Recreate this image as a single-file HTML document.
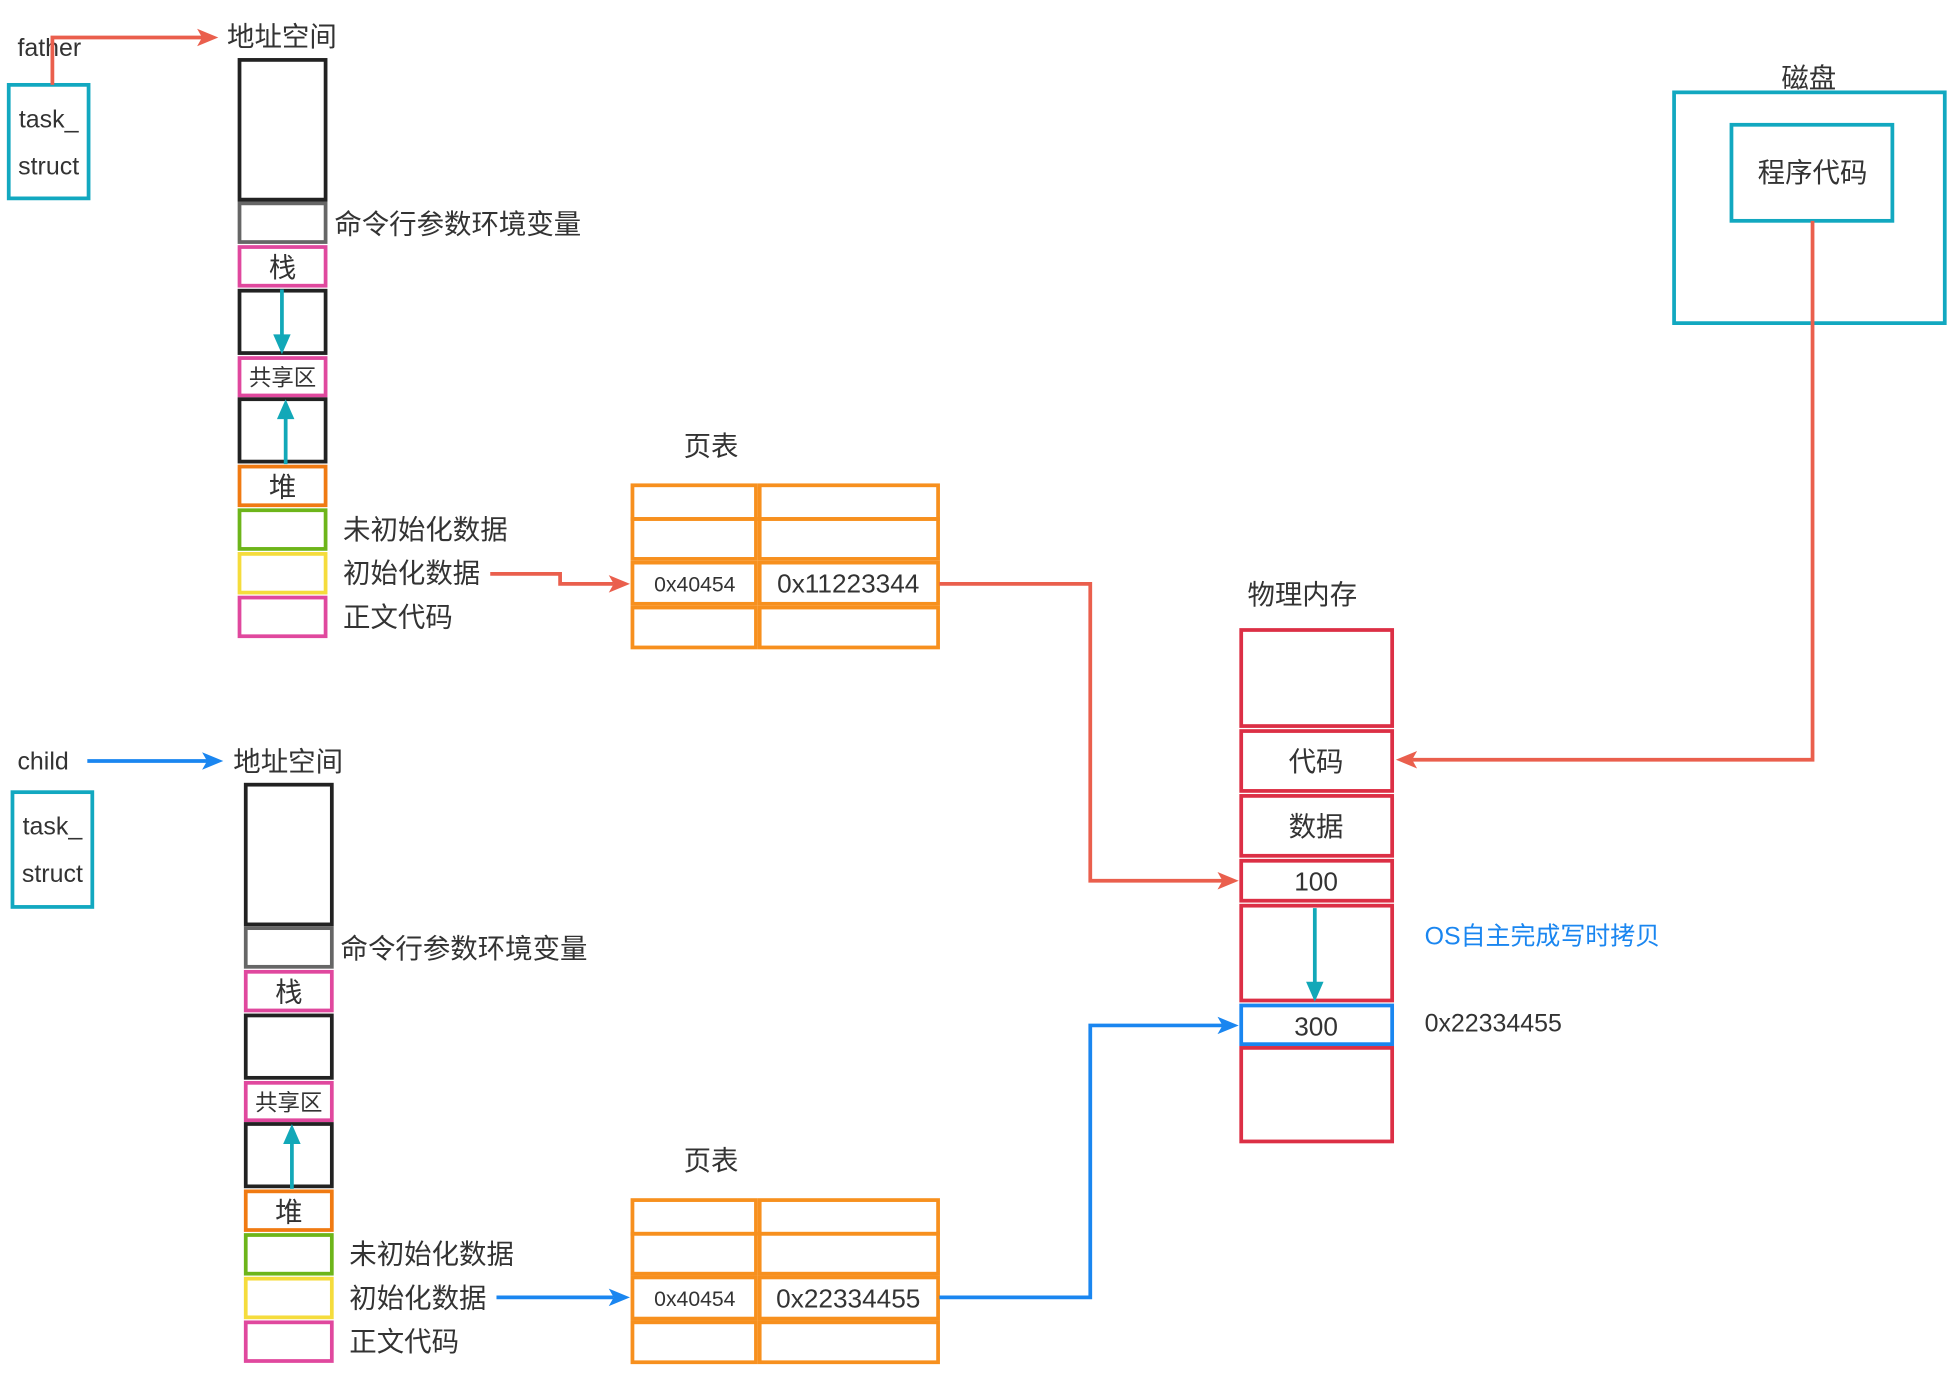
<!DOCTYPE html>
<html><head><meta charset="utf-8"><style>
html,body{margin:0;padding:0;background:#fff;}
svg{display:block;}
text{font-family:"Liberation Sans","Noto Sans CJK SC",sans-serif;fill:#333;}
</style></head><body>
<svg width="1956" height="1379" viewBox="0 0 1568 1105.4" xmlns="http://www.w3.org/2000/svg">
<defs>
<marker id="ar" markerWidth="8" markerHeight="8" refX="7" refY="4" orient="auto" markerUnits="userSpaceOnUse" viewBox="0 0 8 8"><path d="M0,0 L8,4 L0,8 L2,4 Z" fill="#ea5f4d"/></marker>
<marker id="ab" markerWidth="8" markerHeight="8" refX="7" refY="4" orient="auto" markerUnits="userSpaceOnUse" viewBox="0 0 8 8"><path d="M0,0 L8,4 L0,8 L2,4 Z" fill="#1a86f0"/></marker>
<marker id="at" markerWidth="8" markerHeight="8" refX="7" refY="4" orient="auto" markerUnits="userSpaceOnUse" viewBox="0 0 8 8"><path d="M0,0 L8,4 L0,8 L2,4 Z" fill="#12a8b8"/></marker>
</defs>
<style>
.arR{marker-end:url(#ar)}
</style>

<!-- FATHER -->
<text x="14" y="45" font-size="20">father</text>
<rect x="7" y="68" width="64" height="91" fill="none" stroke="#12a8c0" stroke-width="3"/>
<text x="39" y="102" font-size="20" text-anchor="middle">task_</text>
<text x="39" y="140" font-size="20" text-anchor="middle">struct</text>
<path d="M42,68 V30 H168" fill="none" stroke="#ea5f4d" stroke-width="3" marker-end="url(#ar)" style="marker-end:url(#ar)"/>
<path d="M158,23 L175,30 L158,37 L162,30Z" fill="#ea5f4d"/>

<g id="col">
<text x="182" y="37" font-size="22">地址空间</text>
<rect x="192" y="48" width="69" height="112" fill="none" stroke="#222" stroke-width="3"/>
<rect x="192" y="163" width="69" height="31" fill="none" stroke="#666" stroke-width="3"/>
<text x="268" y="187" font-size="22">命令行参数环境变量</text>
<rect x="192" y="198" width="69" height="31" fill="none" stroke="#e0489e" stroke-width="3"/>
<text x="226.5" y="222" font-size="22" text-anchor="middle">栈</text>
<rect x="192" y="233" width="69" height="50" fill="none" stroke="#222" stroke-width="3"/>
<rect x="192" y="287" width="69" height="30" fill="none" stroke="#e0489e" stroke-width="3"/>
<text x="226.5" y="309" font-size="18" text-anchor="middle">共享区</text>
<rect x="192" y="320" width="69" height="50" fill="none" stroke="#222" stroke-width="3"/>
<rect x="192" y="374" width="69" height="31" fill="none" stroke="#f07a12" stroke-width="3"/>
<text x="226.5" y="398" font-size="22" text-anchor="middle">堆</text>
<rect x="192" y="409" width="69" height="31" fill="none" stroke="#6db51a" stroke-width="3"/>
<text x="275" y="432" font-size="22">未初始化数据</text>
<rect x="192" y="444" width="69" height="31" fill="none" stroke="#f5dc3c" stroke-width="3"/>
<text x="275" y="467" font-size="22">初始化数据</text>
<rect x="192" y="479" width="69" height="31" fill="none" stroke="#e0489e" stroke-width="3"/>
<text x="275" y="502" font-size="22">正文代码</text>
<line x1="229" y1="372" x2="229" y2="332" stroke="#12a8b8" stroke-width="3"/>
<path d="M222,336 L229,320 L236,336Z" fill="#12a8b8"/>
</g>
<line x1="226" y1="232" x2="226" y2="270" stroke="#12a8b8" stroke-width="3"/>
<path d="M219,268 L226,284 L233,268Z" fill="#12a8b8"/>

<path d="M393,460 H449 V468 H492" fill="none" stroke="#ea5f4d" stroke-width="3"/>
<path d="M488,461 L505,468 L488,475 L492,468Z" fill="#ea5f4d"/>

<!-- page table top -->
<g id="pt">
<text x="570" y="365" font-size="22" text-anchor="middle">页表</text>
<g fill="none" stroke="#f7901e" stroke-width="3">
<rect x="507" y="389" width="99" height="27"/><rect x="609" y="389" width="143" height="27"/>
<rect x="507" y="416" width="99" height="32"/><rect x="609" y="416" width="143" height="32"/>
<rect x="507" y="451" width="99" height="33"/><rect x="609" y="451" width="143" height="33"/>
<rect x="507" y="487" width="99" height="32"/><rect x="609" y="487" width="143" height="32"/>
</g>
<text x="557" y="474" font-size="17" text-anchor="middle">0x40454</text>
</g>
<text x="680" y="475" font-size="21" text-anchor="middle">0x11223344</text>
<path d="M753,468 H874 V706 H980" fill="none" stroke="#ea5f4d" stroke-width="3"/>
<path d="M976,699 L993,706 L976,713 L980,706Z" fill="#ea5f4d"/>

<!-- CHILD -->
<text x="14" y="617" font-size="20">child</text>
<rect x="10" y="635" width="64" height="92" fill="none" stroke="#12a8c0" stroke-width="3"/>
<text x="42" y="669" font-size="20" text-anchor="middle">task_</text>
<text x="42" y="707" font-size="20" text-anchor="middle">struct</text>
<line x1="70" y1="610" x2="166" y2="610" stroke="#1a86f0" stroke-width="3"/>
<path d="M162,603 L179,610 L162,617 L166,610Z" fill="#1a86f0"/>
<use href="#col" transform="translate(5,581)"/>
<path d="M398,1040 H492" fill="none" stroke="#1a86f0" stroke-width="3"/>
<path d="M488,1033 L505,1040 L488,1047 L492,1040Z" fill="#1a86f0"/>
<use href="#pt" transform="translate(0,573)"/>
<text x="680" y="1048" font-size="21" text-anchor="middle">0x22334455</text>
<path d="M753,1040 H874 V822 H980" fill="none" stroke="#1a86f0" stroke-width="3"/>
<path d="M976,815 L993,822 L976,829 L980,822Z" fill="#1a86f0"/>

<!-- physical memory -->
<text x="1000" y="484" font-size="22">物理内存</text>
<g fill="none" stroke="#dc2f45" stroke-width="3">
<rect x="995" y="505" width="121" height="77"/>
<rect x="995" y="586" width="121" height="48"/>
<rect x="995" y="638" width="121" height="48"/>
<rect x="995" y="690" width="121" height="32"/>
<rect x="995" y="726" width="121" height="76"/>
<rect x="995" y="840" width="121" height="75"/>
</g>
<rect x="995" y="806" width="121" height="31" fill="none" stroke="#1a86f0" stroke-width="3"/>
<text x="1055" y="618" font-size="22" text-anchor="middle">代码</text>
<text x="1055" y="670" font-size="22" text-anchor="middle">数据</text>
<text x="1055" y="714" font-size="21" text-anchor="middle">100</text>
<text x="1055" y="830" font-size="21" text-anchor="middle">300</text>
<line x1="1054" y1="728" x2="1054" y2="790" stroke="#12a8b8" stroke-width="3"/>
<path d="M1047,787 L1054,803 L1061,787Z" fill="#12a8b8"/>
<text x="1142" y="757" font-size="20" style="fill:#1a86f0">OS自主完成写时拷贝</text>
<text x="1142" y="827" font-size="20">0x22334455</text>

<!-- disk -->
<text x="1450" y="70" font-size="22" text-anchor="middle">磁盘</text>
<rect x="1342" y="74" width="217" height="185" fill="none" stroke="#12a8c0" stroke-width="3"/>
<rect x="1388" y="100" width="129" height="77" fill="none" stroke="#12a8c0" stroke-width="3"/>
<text x="1453" y="146" font-size="22" text-anchor="middle">程序代码</text>
<path d="M1453,177 V609 H1132" fill="none" stroke="#ea5f4d" stroke-width="3"/>
<path d="M1136,602 L1119,609 L1136,616 L1132,609Z" fill="#ea5f4d"/>
</svg>
</body></html>
